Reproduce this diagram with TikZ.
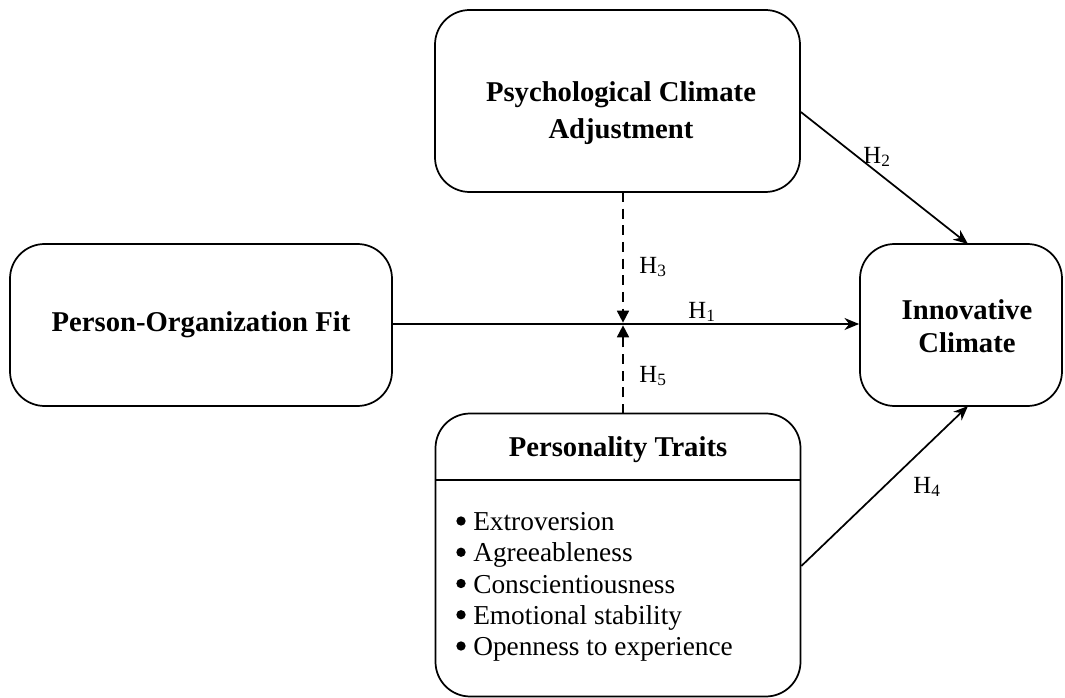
\documentclass[tikz,border=0pt]{standalone}
\usepackage{fontspec}
\setmainfont{Liberation Serif}
\usetikzlibrary{arrows.meta}
\begin{document}
\begin{tikzpicture}[x=0.75pt,y=-0.75pt,
  box/.style={draw,line width=1.3pt,rounded corners=26pt,inner sep=0pt},
  title/.style={font=\fontsize{21.5}{27.5}\selectfont\bfseries,align=center},
  itemlist/.style={font=\fontsize{20.5}{23.44}\selectfont,anchor=west,align=left,inner sep=0pt},
  dot/.style={circle,fill,inner sep=0pt,minimum size=7pt},
  hlab/.style={font=\fontsize{18.5}{22}\selectfont},
  conn/.style={line width=1.3pt,-{Stealth[length=11pt,width=9pt]}},
  dconn/.style={line width=1.3pt,dash pattern=on 7.5pt off 5pt,-{Triangle[length=9pt,width=9pt]}}]
\useasboundingbox (0,0) rectangle (1065,698);
\node[box,minimum width=273.75pt,minimum height=136.5pt] (pc) at (617.5,101) {};
\node[title] (pct) at (621,113) {Psychological Climate\\Adjustment};
\node[box,minimum width=286.5pt,minimum height=121.5pt] (po) at (201,325) {};
\node[title] (pot) at (201,325) {Person-Organization Fit};
\node[box,minimum width=151.5pt,minimum height=121.5pt] (ic) at (961,325) {};
\node[title,font=\fontsize{21.5}{25}\selectfont\bfseries] (ict) at (967,326) {Innovative\\Climate};
\node[box,minimum width=273.75pt,minimum height=212.25pt] (pt) at (618,555) {};
\node[title] (ptt) at (618,450) {Personality Traits};
\draw[line width=1.3pt] (pt.west |- 0,480) coordinate (hl) -- (pt.east |- 0,480) coordinate (hr);
\node[itemlist] (items) at (473,587) {Extroversion\\
Agreeableness\\
Conscientiousness\\
Emotional stability\\
Openness to experience};
\node[dot] (b1) at (461,521) {};
\node[dot] (b2) at (461,552.25) {};
\node[dot] (b3) at (461,583.5) {};
\node[dot] (b4) at (461,614.75) {};
\node[dot] (b5) at (461,646) {};
\coordinate (m) at (623,324);
\coordinate (pcs) at (623,192);
\coordinate (pts) at (623,414);
\draw[conn] (po.east |- m) -- (ic.west |- m);
\draw[dconn] (pcs) -- ([yshift=1pt]m);
\draw[dconn] (pts) -- ([yshift=-1pt]m);
\draw[conn] (pc.east |- 0,112) -- (968,244);
\draw[conn] (pt.east |- 0,566) -- (968,406);
\node[hlab] (h1) at (702,312) {H\textsubscript{1}};
\node[hlab] (h2) at (877,157) {H\textsubscript{2}};
\node[hlab] (h3) at (653,267) {H\textsubscript{3}};
\node[hlab] (h4) at (927,487) {H\textsubscript{4}};
\node[hlab] (h5) at (653,376) {H\textsubscript{5}};
\end{tikzpicture}
\end{document}
